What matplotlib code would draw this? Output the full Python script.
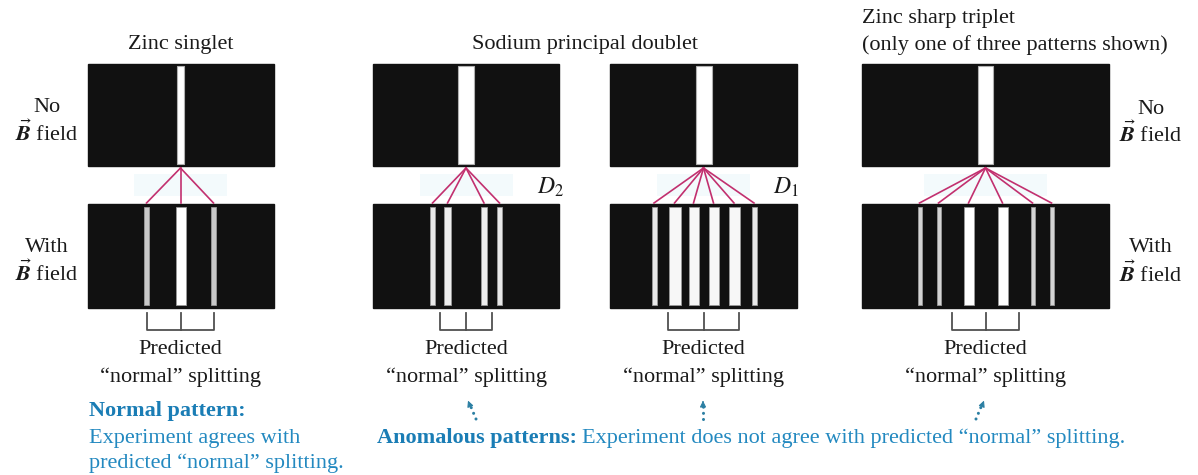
import matplotlib
matplotlib.use("Agg")
import matplotlib.pyplot as plt
from matplotlib.patches import Rectangle

plt.rcParams['font.family'] = ['Liberation Serif', 'DejaVu Serif']
plt.rcParams['mathtext.fontset'] = 'stix'

# Spectral panels: zinc singlet, sodium D2, sodium D1, zinc sharp triplet
panel_names = ["Zinc singlet", "D2", "D1", "Zinc sharp triplet"]
panel_centers = [180.5, 466, 703.5, 985.5]
box_widths = [186, 186, 187, 247]
top_line_widths = [7, 16, 16, 15]

# observed split-line offsets (px from line centre) and widths
split_offsets = [
    [-34, 0, 33],
    [-33.5, -18.5, 18, 33.5],
    [-49.5, -29, -10, 10, 30.5, 50.5],
    [-66, -47, -17, 17, 47, 66],
]
split_widths = [
    [5, 10, 5],
    [5, 7, 6, 5],
    [5, 12, 10, 10, 11, 5],
    [4, 4, 10, 10, 4, 4],
]
split_colors = [
    ["#c9c9c9", "#ffffff", "#c9c9c9"],
    ["#e8e8e8", "#eeeeee", "#eeeeee", "#e8e8e8"],
    ["#e8e8e8", "#f7f7f7", "#f7f7f7", "#f7f7f7", "#f7f7f7", "#e8e8e8"],
    ["#d4d4d4", "#d4d4d4", "#ffffff", "#ffffff", "#d4d4d4", "#d4d4d4"],
]
# predicted "normal" splitting (bracket half-width)
normal_offsets = [33.5, 26, 35.5, 33.5]

TOP_Y0, TOP_Y1 = 64, 166
BOT_Y0, BOT_Y1 = 204, 308
BOX_COLOR = "#111111"
FAN_COLOR = "#c2306f"
BLUE = "#2389c0"
BLUE_DARK = "#1a7db5"
ARROW_COLOR = "#2b7fa3"

fig = plt.figure(figsize=(11.98, 4.75), dpi=100)
ax = fig.add_axes([0, 0, 1, 1])
ax.set_xlim(0, 1198)
ax.set_ylim(475, 0)
ax.axis("off")

for i, cx in enumerate(panel_centers):
    w = box_widths[i]
    # black boxes
    ax.add_patch(Rectangle((cx - w / 2, TOP_Y0), w, TOP_Y1 - TOP_Y0, color=BOX_COLOR, zorder=1))
    ax.add_patch(Rectangle((cx - w / 2, BOT_Y0), w, BOT_Y1 - BOT_Y0, color=BOX_COLOR, zorder=1))

    # very faint glow behind the fan
    ax.add_patch(Rectangle((cx - w * 0.25, TOP_Y1 + 8), w * 0.5, BOT_Y0 - TOP_Y1 - 16,
                           color="#f3fafc", zorder=0, lw=0))

    # unsplit line
    ax.bar(cx, TOP_Y1 - TOP_Y0 - 4, width=top_line_widths[i], bottom=TOP_Y0 + 2,
           color="#ffffff", edgecolor="#b0b0b0", linewidth=0.8, zorder=2)

    # split lines
    xs = [cx + o for o in split_offsets[i]]
    ax.bar(xs, BOT_Y1 - BOT_Y0 - 6, width=split_widths[i], bottom=BOT_Y0 + 3,
           color=split_colors[i], edgecolor="#9a9a9a", linewidth=0.6, zorder=2)

    # fan of connecting lines
    for x in xs:
        ax.plot([cx, x], [TOP_Y1 + 2, BOT_Y0 - 1], color=FAN_COLOR, lw=1.2, zorder=3)

    # predicted normal splitting bracket
    n = normal_offsets[i]
    ax.plot([cx - n, cx - n, cx + n, cx + n], [313, 330, 330, 313], color="#505050", lw=1.3)
    ax.plot([cx, cx], [313, 330], color="#505050", lw=1.3)

    ax.text(cx, 350, "Predicted", fontsize=16, ha="center", va="center", color="#1a1a1a")
    ax.text(cx, 377, "\u201cnormal\u201d splitting", fontsize=16, ha="center", va="center", color="#1a1a1a")

# titles
ax.text(panel_centers[0], 45, "Zinc singlet", fontsize=16, ha="center", va="center", color="#1a1a1a")
ax.text(585, 45, "Sodium principal doublet", fontsize=16, ha="center", va="center", color="#1a1a1a")
ax.text(862, 18, "Zinc sharp triplet", fontsize=16, ha="left", va="center", color="#1a1a1a")
ax.text(862, 45, "(only one of three patterns shown)", fontsize=16, ha="left", va="center", color="#1a1a1a")

ax.text(537, 187, r"$D_2$", fontsize=17, ha="left", va="center", color="#1a1a1a")
ax.text(773, 187, r"$D_1$", fontsize=17, ha="left", va="center", color="#1a1a1a")

# field labels
bfield = r"$\vec{\mathbfit{B}}$ field"
for lx, ys in [(47, (107, 133, 247, 273)), (1151, (109, 134, 248, 274))]:
    ax.text(lx, ys[0], "No", fontsize=16, ha="center", va="center", color="#1a1a1a")
    ax.text(lx, ys[1], bfield, fontsize=16, ha="center", va="center", color="#1a1a1a")
    ax.text(lx, ys[2], "With", fontsize=16, ha="center", va="center", color="#1a1a1a")
    ax.text(lx, ys[3], bfield, fontsize=16, ha="center", va="center", color="#1a1a1a")

# blue notes
ax.text(89, 411, "Normal pattern:", fontsize=16, fontweight="bold", ha="left", va="center", color=BLUE_DARK)
ax.text(89, 438, "Experiment agrees with", fontsize=16, ha="left", va="center", color=BLUE)
ax.text(89, 463, "predicted \u201cnormal\u201d splitting.", fontsize=16, ha="left", va="center", color=BLUE)

t = ax.text(377, 438, "Anomalous patterns:", fontsize=16, fontweight="bold", ha="left", va="center", color=BLUE_DARK)
fig.canvas.draw()
bb = t.get_window_extent().transformed(ax.transData.inverted())
ax.text(bb.x1 + 5, 438, "Experiment does not agree with predicted \u201cnormal\u201d splitting.",
        fontsize=16, ha="left", va="center", color=BLUE)

# dotted arrows pointing up to the anomalous cases
for (x0, y0), (x1, y1) in [((476, 419), (467, 398)), ((703, 419), (703, 398)), ((976, 419), (985, 398))]:
    ax.plot([x0, x1 + (x0 - x1) * 0.3], [y0, y1 + 6], color=ARROW_COLOR, lw=2.2,
            linestyle=(0, (0.01, 2.0)), dash_capstyle="round")
    ax.annotate("", xy=(x1, y1), xytext=(x1 + (x0 - x1) * 0.3, y1 + 7),
                arrowprops=dict(arrowstyle="-|>", color=ARROW_COLOR, lw=0.8, mutation_scale=9))

fig.savefig("out.png", dpi=100)
